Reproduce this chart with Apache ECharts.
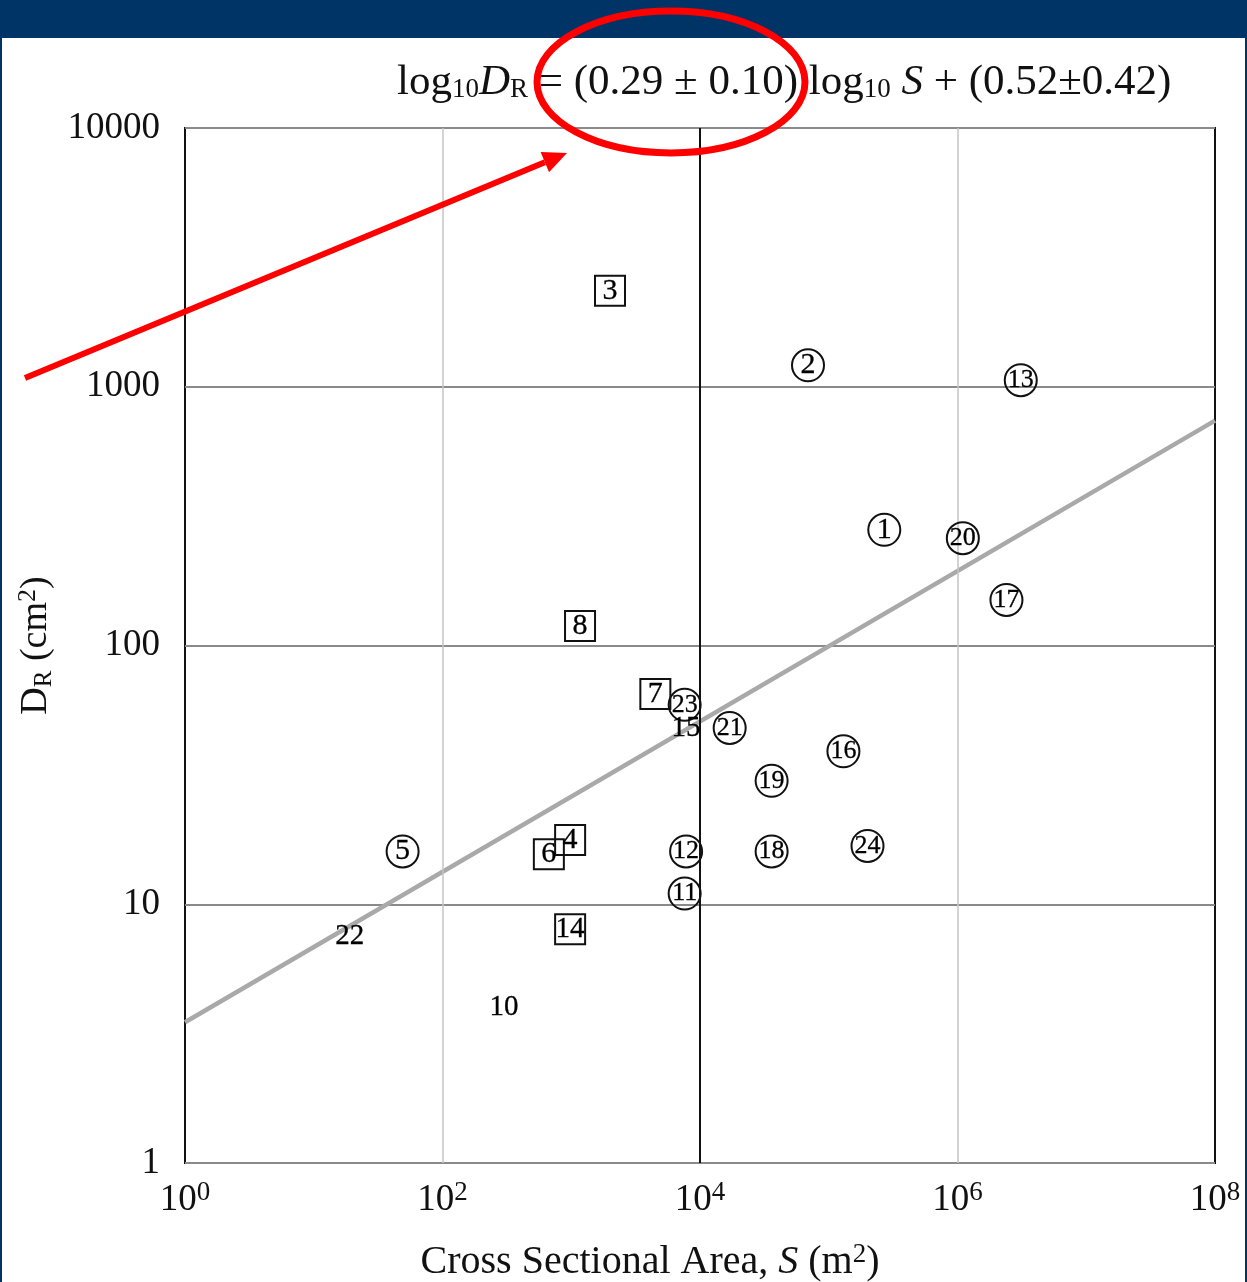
<!DOCTYPE html>
<html>
<head>
<meta charset="utf-8">
<script src="https://cdn.jsdelivr.net/npm/echarts@6/dist/echarts.min.js"></script>
<style>
  html, body { margin: 0; padding: 0; background: #ffffff; }
  #chart { width: 1247px; height: 1282px; }
</style>
</head>
<body>
<div id="chart"></div>
<script>
// Site numbers, cross sectional area S (m^2), D_R (cm^2) and the marker used for each site
const siteIds = [1, 2, 3, 4, 5, 6, 7, 8, 10, 11, 12, 13, 14, 15, 16, 17, 18, 19, 20, 21, 22, 23, 24];
const crossSection = [2.7e5, 6.9e4, 2000, 980, 49, 670, 4500, 1170, 300, 7600, 7800, 3.1e6, 980, 7800, 1.3e5, 2.4e6, 3.6e4, 3.6e4, 1.1e6, 1.7e4, 19, 7600, 2.0e5];
const dischargeRatio = [280, 1210, 2350, 17.7, 16, 15.6, 65, 119, 4.0, 11, 16, 1060, 8.0, 48, 39, 150, 16, 30, 260, 48, 7.5, 59, 16.8];
const markerKinds = ['circle', 'circle', 'square', 'square', 'circle', 'square', 'square', 'square', 'text', 'circle', 'circle', 'circle', 'square', 'text', 'circle', 'circle', 'circle', 'circle', 'circle', 'circle', 'text', 'circle', 'circle'];

// Fitted line log10 D_R = 0.29 log10 S + 0.52, endpoints at the axis limits
const fitS = [1, 1e8];
const fitD = [3.5, 740];

// Axis ranges and labelled decades
const xRange = [1, 1e8];
const yRange = [1, 10000];
const xLabelledExps = [0, 2, 4, 6, 8];
const xGridLines = [1e2, 1e4, 1e6];

const SERIF = '"Liberation Serif", "DejaVu Serif", serif';
const INK = '#111111';

function pointsOf(kind) {
  const out = [];
  for (let i = 0; i < siteIds.length; i++) {
    if (markerKinds[i] === kind) out.push({ value: [crossSection[i], dischargeRatio[i]], id: siteIds[i] });
  }
  return out;
}

function labelFor(kind) {
  return function (p) {
    const id = p.data.id;
    if (kind === 'text') return '{t|' + id + '}';
    if (kind === 'square') return id >= 10 ? '{sq2|' + id + '}' : '{sq1|' + id + '}';
    return id >= 10 ? '{c2|' + id + '}' : '{c1|' + id + '}';
  };
}

const digitStyle = { fontFamily: SERIF, color: '#000', textBorderColor: '#000', textBorderWidth: 0.3 };
const labelRich = {
  c1: Object.assign({ fontSize: 30 }, digitStyle),
  c2: Object.assign({ fontSize: 26 }, digitStyle),
  sq1: Object.assign({ fontSize: 30 }, digitStyle),
  sq2: Object.assign({ fontSize: 29 }, digitStyle),
  t: Object.assign({ fontSize: 29 }, digitStyle)
};

const chart = echarts.init(document.getElementById('chart'), null, { renderer: 'canvas' });

const tip = [567, 153];
const tail = [25, 378];
const dx = tip[0] - tail[0], dy = tip[1] - tail[1];
const len = Math.sqrt(dx * dx + dy * dy);
const ux = dx / len, uy = dy / len;
const headLen = 24, headHalf = 11;
const base = [tip[0] - ux * headLen, tip[1] - uy * headLen];

const option = {
  backgroundColor: '#ffffff',
  animation: false,
  title: {
    text: '{n|log}{s|10}{i|D}{s|R}{n| = (0.29 ± 0.10) log}{s|10}{i| S}{n| + (0.52±0.42)}',
    left: 392,
    top: 56,
    textStyle: {
      fontWeight: 'normal',
      rich: {
        n: { fontFamily: SERIF, fontSize: 43, fontWeight: 'normal', color: INK },
        i: { fontFamily: SERIF, fontSize: 43, fontWeight: 'normal', fontStyle: 'italic', color: INK },
        s: { fontFamily: SERIF, fontSize: 27, fontWeight: 'normal', color: INK, padding: [14, 0, 0, 0] }
      }
    }
  },
  grid: {
    left: 185, right: 32, top: 128, bottom: 119,
    outerBoundsMode: 'none',
    show: true, borderColor: '#111', borderWidth: 2, backgroundColor: 'transparent',
    containLabel: false
  },
  xAxis: {
    type: 'log', logBase: 10, min: xRange[0], max: xRange[1],
    axisLine: { show: false },
    axisTick: { show: false },
    splitLine: { show: false },
    axisLabel: {
      margin: 16,
      formatter: function (v) {
        const e = Math.round(Math.log10(v));
        return xLabelledExps.indexOf(e) >= 0 ? '{b|10}{p|' + e + '}' : '';
      },
      rich: {
        b: { fontFamily: SERIF, fontSize: 37, color: INK },
        p: { fontFamily: SERIF, fontSize: 27, color: INK, verticalAlign: 'top', padding: [0, 0, 16, 0] }
      }
    },
    name: '{n|Cross Sectional Area, }{i|S}{n| (m}{p|2}{n|)}',
    nameLocation: 'middle',
    nameGap: 78,
    nameTextStyle: {
      padding: [0, 100, 0, 0],
      rich: {
        n: { fontFamily: SERIF, fontSize: 40, color: INK },
        i: { fontFamily: SERIF, fontSize: 40, fontStyle: 'italic', color: INK },
        p: { fontFamily: SERIF, fontSize: 27, color: INK, padding: [0, 0, 16, 0] }
      }
    }
  },
  yAxis: {
    type: 'log', logBase: 10, min: yRange[0], max: yRange[1],
    axisLine: { show: false },
    axisTick: { show: false },
    splitLine: { show: true, lineStyle: { color: '#8a8a8a', width: 2 } },
    axisLabel: {
      margin: 25,
      fontFamily: SERIF, fontSize: 37, color: INK,
      formatter: function (v) { return String(Math.round(v)); }
    },
    name: '{n|D}{s|R}{n| (cm}{p|2}{n|)}',
    nameLocation: 'middle',
    nameGap: 117,
    nameRotate: 90,
    nameTextStyle: {
      rich: {
        n: { fontFamily: SERIF, fontSize: 38, color: INK },
        s: { fontFamily: SERIF, fontSize: 25, color: INK, padding: [16, 0, 0, 0] },
        p: { fontFamily: SERIF, fontSize: 26, color: INK, padding: [0, 0, 16, 0] }
      }
    }
  },
  series: [
    {
      name: 'fit',
      type: 'line',
      data: fitS.map((s, i) => [s, fitD[i]]),
      symbol: 'none',
      lineStyle: { color: '#a9a9a9', width: 4.5 },
      z: 2,
      silent: true,
      markLine: {
        silent: true,
        symbol: 'none',
        label: { show: false },
        data: xGridLines.map(v => ({
          xAxis: v,
          lineStyle: v === 1e4
            ? { color: '#111', width: 2, type: 'solid' }
            : { color: '#c4c4c4', width: 1.5, type: 'solid' }
        }))
      }
    },
    {
      name: 'circles',
      type: 'scatter',
      data: pointsOf('circle'),
      symbol: 'circle',
      symbolSize: 32,
      itemStyle: { color: 'rgba(255,255,255,0)', borderColor: '#111', borderWidth: 2, opacity: 1 },
      label: { show: true, position: 'inside', color: '#000', formatter: labelFor('circle'), rich: labelRich },
      z: 5
    },
    {
      name: 'squares',
      type: 'scatter',
      data: pointsOf('square'),
      symbol: 'rect',
      symbolSize: [30, 30],
      itemStyle: { color: 'rgba(255,255,255,0)', borderColor: '#111', borderWidth: 2, opacity: 1 },
      label: { show: true, position: 'inside', color: '#000', formatter: labelFor('square'), rich: labelRich },
      z: 5
    },
    {
      name: 'plain',
      type: 'scatter',
      data: pointsOf('text'),
      symbol: 'circle',
      symbolSize: 1,
      itemStyle: { color: 'rgba(255,255,255,0)', opacity: 1 },
      label: { show: true, position: 'inside', color: '#000', formatter: labelFor('text'), rich: labelRich },
      z: 5
    }
  ],
  graphic: [
    { type: 'rect', z: 50, shape: { x: 0, y: 0, width: 1247, height: 38 }, style: { fill: '#003366' } },
    { type: 'rect', z: 50, shape: { x: 0, y: 0, width: 2, height: 1282 }, style: { fill: '#003366' } },
    { type: 'rect', z: 50, shape: { x: 1245, y: 0, width: 2, height: 1282 }, style: { fill: '#003366' } },
    {
      type: 'ellipse', z: 60,
      shape: { cx: 671, cy: 82, rx: 134, ry: 71 },
      style: { fill: 'none', stroke: '#ff0000', lineWidth: 7 }
    },
    {
      type: 'line', z: 60,
      shape: { x1: tail[0], y1: tail[1], x2: base[0], y2: base[1] },
      style: { stroke: '#ff0000', lineWidth: 6 }
    },
    {
      type: 'polygon', z: 60,
      shape: {
        points: [
          tip,
          [base[0] - uy * headHalf, base[1] + ux * headHalf],
          [base[0] + uy * headHalf, base[1] - ux * headHalf]
        ]
      },
      style: { fill: '#ff0000' }
    }
  ]
};

chart.setOption(option);
</script>
</body>
</html>
